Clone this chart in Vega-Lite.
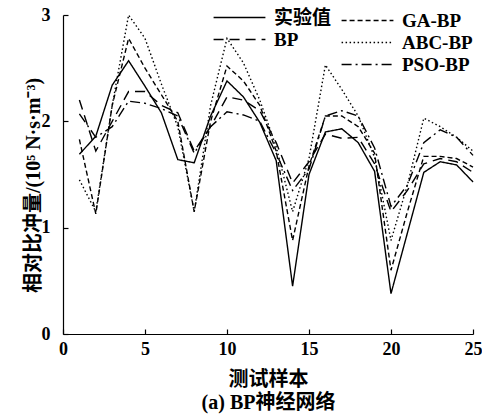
{
  "$schema": "https://vega.github.io/schema/vega-lite/v6.json",
  "width": 410,
  "height": 319,
  "autosize": {"type": "none"},
  "padding": {"left": 63, "top": 15, "right": 9, "bottom": 80},
  "background": "white",
  "config": {"view": {"stroke": null}, "font": "Liberation Serif, Noto Sans CJK SC"},
  "datasets": {
    "d": [
      {"x":1,"s":"实验值","v":1.69},{"x":2,"s":"实验值","v":1.86},{"x":3,"s":"实验值","v":2.34},{"x":4,"s":"实验值","v":2.57},{"x":5,"s":"实验值","v":2.33},
      {"x":6,"s":"实验值","v":2.08},{"x":7,"s":"实验值","v":1.64},{"x":8,"s":"实验值","v":1.61},{"x":9,"s":"实验值","v":2.05},{"x":10,"s":"实验值","v":2.38},
      {"x":11,"s":"实验值","v":2.23},{"x":12,"s":"实验值","v":1.99},{"x":13,"s":"实验值","v":1.63},{"x":14,"s":"实验值","v":0.45},{"x":15,"s":"实验值","v":1.5},
      {"x":16,"s":"实验值","v":1.9},{"x":17,"s":"实验值","v":1.93},{"x":18,"s":"实验值","v":1.8},{"x":19,"s":"实验值","v":1.53},{"x":20,"s":"实验值","v":0.38},
      {"x":21,"s":"实验值","v":0.95},{"x":22,"s":"实验值","v":1.52},{"x":23,"s":"实验值","v":1.62},{"x":24,"s":"实验值","v":1.59},{"x":25,"s":"实验值","v":1.43},

      {"x":1,"s":"BP","v":2.2},{"x":2,"s":"BP","v":1.72},{"x":3,"s":"BP","v":2.0},{"x":4,"s":"BP","v":2.28},{"x":5,"s":"BP","v":2.28},
      {"x":6,"s":"BP","v":2.15},{"x":7,"s":"BP","v":2.08},{"x":8,"s":"BP","v":1.72},{"x":9,"s":"BP","v":1.95},{"x":10,"s":"BP","v":2.23},
      {"x":11,"s":"BP","v":2.2},{"x":12,"s":"BP","v":2.1},{"x":13,"s":"BP","v":1.8},{"x":14,"s":"BP","v":1.42},{"x":15,"s":"BP","v":1.62},
      {"x":16,"s":"BP","v":1.88},{"x":17,"s":"BP","v":1.84},{"x":18,"s":"BP","v":1.85},{"x":19,"s":"BP","v":1.6},{"x":20,"s":"BP","v":1.15},
      {"x":21,"s":"BP","v":1.35},{"x":22,"s":"BP","v":1.6},{"x":23,"s":"BP","v":1.65},{"x":24,"s":"BP","v":1.62},{"x":25,"s":"BP","v":1.52},

      {"x":1,"s":"GA-BP","v":1.83},{"x":2,"s":"GA-BP","v":1.13},{"x":3,"s":"GA-BP","v":2.15},{"x":4,"s":"GA-BP","v":2.78},{"x":5,"s":"GA-BP","v":2.5},
      {"x":6,"s":"GA-BP","v":2.25},{"x":7,"s":"GA-BP","v":2.0},{"x":8,"s":"GA-BP","v":1.15},{"x":9,"s":"GA-BP","v":2.0},{"x":10,"s":"GA-BP","v":2.52},
      {"x":11,"s":"GA-BP","v":2.38},{"x":12,"s":"GA-BP","v":2.15},{"x":13,"s":"GA-BP","v":1.72},{"x":14,"s":"GA-BP","v":0.88},{"x":15,"s":"GA-BP","v":1.58},
      {"x":16,"s":"GA-BP","v":2.05},{"x":17,"s":"GA-BP","v":2.05},{"x":18,"s":"GA-BP","v":1.95},{"x":19,"s":"GA-BP","v":1.7},{"x":20,"s":"GA-BP","v":0.6},
      {"x":21,"s":"GA-BP","v":1.15},{"x":22,"s":"GA-BP","v":1.67},{"x":23,"s":"GA-BP","v":1.67},{"x":24,"s":"GA-BP","v":1.65},{"x":25,"s":"GA-BP","v":1.57},

      {"x":1,"s":"ABC-BP","v":1.45},{"x":2,"s":"ABC-BP","v":1.15},{"x":3,"s":"ABC-BP","v":2.15},{"x":4,"s":"ABC-BP","v":3.0},{"x":5,"s":"ABC-BP","v":2.78},
      {"x":6,"s":"ABC-BP","v":2.35},{"x":7,"s":"ABC-BP","v":1.95},{"x":8,"s":"ABC-BP","v":1.15},{"x":9,"s":"ABC-BP","v":2.15},{"x":10,"s":"ABC-BP","v":2.78},
      {"x":11,"s":"ABC-BP","v":2.55},{"x":12,"s":"ABC-BP","v":2.2},{"x":13,"s":"ABC-BP","v":1.76},{"x":14,"s":"ABC-BP","v":1.15},{"x":15,"s":"ABC-BP","v":1.65},
      {"x":16,"s":"ABC-BP","v":2.53},{"x":17,"s":"ABC-BP","v":2.3},{"x":18,"s":"ABC-BP","v":2.05},{"x":19,"s":"ABC-BP","v":1.66},{"x":20,"s":"ABC-BP","v":0.88},
      {"x":21,"s":"ABC-BP","v":1.4},{"x":22,"s":"ABC-BP","v":2.03},{"x":23,"s":"ABC-BP","v":1.95},{"x":24,"s":"ABC-BP","v":1.85},{"x":25,"s":"ABC-BP","v":1.72},

      {"x":1,"s":"PSO-BP","v":2.07},{"x":2,"s":"PSO-BP","v":1.85},{"x":3,"s":"PSO-BP","v":1.95},{"x":4,"s":"PSO-BP","v":2.19},{"x":5,"s":"PSO-BP","v":2.17},
      {"x":6,"s":"PSO-BP","v":2.12},{"x":7,"s":"PSO-BP","v":2.05},{"x":8,"s":"PSO-BP","v":1.7},{"x":9,"s":"PSO-BP","v":1.95},{"x":10,"s":"PSO-BP","v":2.09},
      {"x":11,"s":"PSO-BP","v":2.06},{"x":12,"s":"PSO-BP","v":2.0},{"x":13,"s":"PSO-BP","v":1.7},{"x":14,"s":"PSO-BP","v":1.35},{"x":15,"s":"PSO-BP","v":1.55},
      {"x":16,"s":"PSO-BP","v":2.05},{"x":17,"s":"PSO-BP","v":2.1},{"x":18,"s":"PSO-BP","v":2.05},{"x":19,"s":"PSO-BP","v":1.75},{"x":20,"s":"PSO-BP","v":1.2},
      {"x":21,"s":"PSO-BP","v":1.4},{"x":22,"s":"PSO-BP","v":1.8},{"x":23,"s":"PSO-BP","v":1.92},{"x":24,"s":"PSO-BP","v":1.85},{"x":25,"s":"PSO-BP","v":1.68}
    ]
  },
  "data": {"name": "d"},
  "encoding": {
    "x": {
      "field": "x", "type": "quantitative",
      "scale": {"domain": [0, 25], "nice": false},
      "axis": {
        "values": [0, 5, 10, 15, 20, 25], "grid": false, "tickSize": -5, "labelPadding": 11,
        "labelFontSize": 18, "labelFontWeight": "bold", "labelColor": "black", "labelFlush": false,
        "domainColor": "black", "tickColor": "black", "domainWidth": 1.2, "tickWidth": 1.2,
        "title": ["测试样本", "(a) BP神经网络"], "titleFontSize": 20, "titleFontWeight": "bold",
        "titleColor": "black", "titlePadding": 11, "titleLineHeight": 23
      }
    },
    "y": {
      "field": "v", "type": "quantitative",
      "scale": {"domain": [0, 3], "nice": false},
      "axis": {
        "values": [0, 1, 2, 3], "grid": false, "tickSize": -5, "labelPadding": 18,
        "labelFontSize": 18, "labelFontWeight": "bold", "labelColor": "black",
        "domainColor": "black", "tickColor": "black", "domainWidth": 1.2, "tickWidth": 1.2,
        "title": "相对比冲量/(10⁵ N·s·m⁻³)", "titleFontSize": 20, "titleFontWeight": "bold",
        "titleColor": "black", "titleX": -20, "titleY": 170
      }
    }
  },
  "layer": [
    {
      "transform": [{"filter": {"field": "s", "oneOf": ["实验值", "BP"]}}],
      "mark": {"type": "line", "color": "black", "strokeWidth": 1.4},
      "encoding": {
        "strokeDash": {
          "field": "s", "type": "nominal",
          "scale": {"domain": ["实验值", "BP"], "range": [[1, 0], [10, 6]]},
          "legend": {
            "orient": "none", "legendX": 165, "legendY": -9, "title": null, "padding": 0,
            "symbolType": "M-2.5,0H2.5", "symbolSize": 430, "symbolStrokeColor": "black", "symbolFillColor": "transparent", "symbolStrokeWidth": 1.4,
            "labelFontSize": 19, "labelFontWeight": "bold", "labelColor": "black", "labelOffset": 23,
            "rowPadding": -3
          }
        }
      }
    },
    {
      "transform": [{"filter": {"field": "s", "oneOf": ["GA-BP", "ABC-BP", "PSO-BP"]}}],
      "mark": {"type": "line", "color": "black", "strokeWidth": 1.4},
      "encoding": {
        "strokeDash": {
          "field": "s", "type": "nominal",
          "scale": {"domain": ["GA-BP", "ABC-BP", "PSO-BP"], "range": [[5, 3], [1.5, 2.5], [10, 4, 2, 4]]},
          "legend": {
            "orient": "none", "legendX": 293, "legendY": -6, "title": null, "padding": 0,
            "symbolType": "M-2.5,0H2.5", "symbolSize": 430, "symbolStrokeColor": "black", "symbolFillColor": "transparent", "symbolStrokeWidth": 1.4,
            "labelFontSize": 19, "labelFontWeight": "bold", "labelColor": "black", "labelOffset": 23,
            "rowPadding": -1
          }
        }
      }
    }
  ],
  "resolve": {"scale": {"strokeDash": "independent"}}
}
